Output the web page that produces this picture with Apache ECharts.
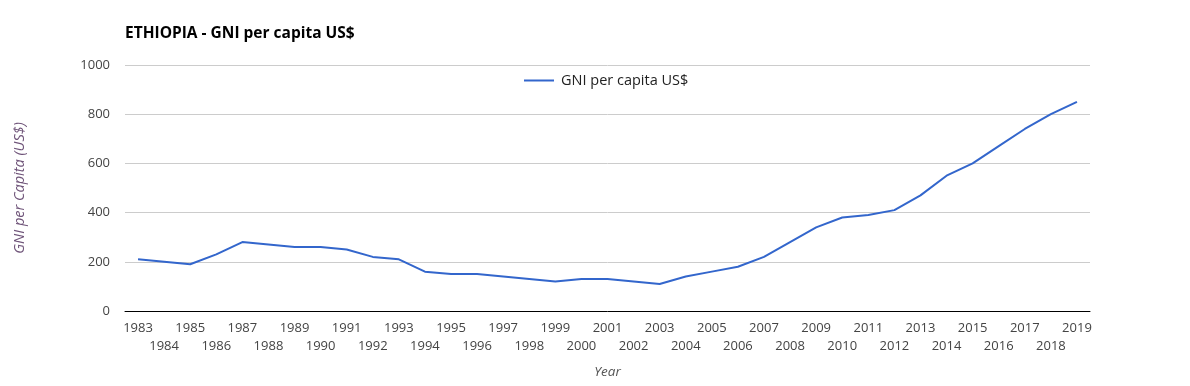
<!DOCTYPE html>
<html>
<head>
<meta charset="utf-8">
<script src="https://cdn.jsdelivr.net/npm/echarts@6/dist/echarts.min.js"></script>
<style>
html,body{margin:0;padding:0;background:#fff;}
#chart{width:1190px;height:386px;}
</style>
</head>
<body>
<div id="chart"></div>
<script>
const years = ['1983','1984','1985','1986','1987','1988','1989','1990','1991','1992','1993','1994','1995','1996','1997','1998','1999','2000','2001','2002','2003','2004','2005','2006','2007','2008','2009','2010','2011','2012','2013','2014','2015','2016','2017','2018','2019'];
const gniPerCapita = [210,200,190,230,280,270,260,260,250,220,210,160,150,150,140,130,120,130,130,120,110,140,160,180,220,280,340,380,390,410,470,550,600,670,740,800,850];
const yTicks = [0,200,400,600,800,1000];

const chart = echarts.init(document.getElementById('chart'));
const font = "'Open Sans', 'Noto Sans', sans-serif";
chart.setOption({
  animation: false,
  textStyle: { fontFamily: font },
  title: {
    text: 'ETHIOPIA - GNI per capita US$',
    left: 125, top: 26, padding: 0,
    textStyle: { fontFamily: font, fontSize: 15.5, fontWeight: 'bold', color: '#000' }
  },
  legend: {
    top: 73, left: 524, padding: 0,
    icon: 'rect', itemWidth: 30, itemHeight: 2, itemGap: 10,
    textStyle: { fontFamily: font, fontSize: 14.5, color: '#222', padding: [0, 0, 0, 2] },
    data: ['GNI per capita US$']
  },
  grid: { left: 125, right: 100, top: 65, bottom: 75, outerBoundsMode: 'none', containLabel: false },
  xAxis: {
    type: 'category',
    data: years,
    boundaryGap: true,
    name: 'Year',
    nameLocation: 'middle',
    nameGap: 54,
    nameTextStyle: { fontFamily: font, fontSize: 13.5, fontStyle: 'italic', color: '#555' },
    axisLine: { lineStyle: { color: '#000', width: 1 } },
    axisTick: { show: false },
    axisLabel: {
      interval: 0,
      margin: 8,
      fontSize: 13,
      color: '#444',
      lineHeight: 18,
      formatter: function (v, i) { return i % 2 === 1 ? '\n' + v : v; }
    }
  },
  yAxis: {
    type: 'value',
    min: yTicks[0], max: yTicks[yTicks.length - 1], interval: 200,
    name: 'GNI per Capita (US$)',
    nameLocation: 'middle',
    nameGap: 98,
    nameRotate: 90,
    nameTextStyle: { fontFamily: font, fontSize: 14.5, fontStyle: 'italic', color: '#6f5479' },
    axisLine: { show: false },
    axisTick: { show: false },
    axisLabel: { fontSize: 13, color: '#444', margin: 15, formatter: function (v) { return String(v); } },
    splitLine: { lineStyle: { color: '#cccccc', width: 1 } }
  },
  series: [{
    name: 'GNI per capita US$',
    type: 'line',
    data: gniPerCapita,
    symbol: 'none',
    lineStyle: { color: '#3366cc', width: 2 },
    itemStyle: { color: '#3366cc' }
  }]
});
</script>
</body>
</html>
